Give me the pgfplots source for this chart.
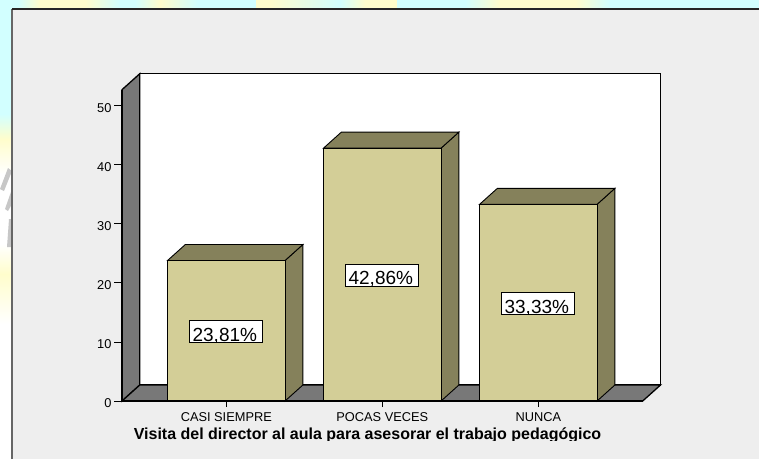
\documentclass[border=0pt]{standalone}
\usepackage{pgfplots}
\pgfplotsset{compat=1.18}
\usepackage{fontspec}
\setmainfont{Liberation Sans}
\definecolor{panel}{HTML}{EEEEEE}
\definecolor{wall}{HTML}{787878}
\definecolor{barfront}{HTML}{D3CE97}
\definecolor{barside}{HTML}{85815B}
\definecolor{bgcyan}{HTML}{D2FFFF}
\definecolor{bgyellow}{HTML}{FFFDCC}
\newcommand{\vallabel}[3]{%
  \node[draw=black, fill=white, line width=0.8pt, minimum width=73pt, minimum height=22pt, inner sep=0pt,
    path picture={\node[anchor=base, inner sep=0pt, font=\fontsize{19}{19}\selectfont] at ([xshift=-1.5pt,yshift=-9.6pt]path picture bounding box.center) {#3};}]
    at (axis cs:#1,#2) {};}
\begin{document}
\begin{tikzpicture}[x=1pt,y=1pt]
\useasboundingbox (0,0) rectangle (759,459);
\fill[white] (0,0) rectangle (759,459);
% background outside the panel
\fill[bgcyan] (0,450) rectangle (759,459);
\shade[left color=bgcyan, right color=bgyellow] (18,450) rectangle (40,459);
\fill[bgyellow] (40,450) rectangle (85,459);
\shade[left color=bgyellow, right color=bgcyan] (85,450) rectangle (120,459);
\shade[left color=bgcyan, right color=bgyellow] (135,450) rectangle (160,459);
\shade[left color=bgyellow, right color=bgcyan] (160,450) rectangle (198,459);
\fill[bgyellow] (256,450) rectangle (397,459);
\shade[left color=bgyellow, right color=bgcyan] (270,450) rectangle (340,459);
\shade[left color=bgcyan, right color=bgyellow] (340,450) rectangle (365,459);
\shade[left color=bgcyan, right color=bgyellow] (465,450) rectangle (500,459);
\fill[bgyellow] (500,450) rectangle (575,459);
\shade[left color=bgyellow, right color=bgcyan] (575,450) rectangle (610,459);
\fill[bgcyan] (0,345) rectangle (12,459);
\shade[top color=bgcyan, bottom color=bgyellow] (0,320) rectangle (12,345);
\shade[top color=bgyellow, bottom color=white] (0,285) rectangle (12,320);
\shade[top color=white, bottom color=bgyellow] (0,185) rectangle (12,215);
\shade[top color=bgyellow, bottom color=white] (0,135) rectangle (12,185);
\fill[black!22] (0,270) -- (8,291) -- (12,288) -- (4,268) -- cycle;
\fill[black!22] (5,250) -- (12,270) -- (12,255) -- (8,248) -- cycle;
\fill[black!22] (7,212) -- (12,212) -- (12,240) -- (9,240) -- cycle;
% panel
\fill[panel] (12,0) rectangle (759,450);
\draw[black!60, line width=1.3pt] (12,0) -- (12,450);
\draw[black!85, line width=1.3pt] (12,450) -- (759,450);
\begin{axis}[
  at={(122pt,58pt)}, anchor=south west,
  scale only axis, width=520.7pt, height=311.3pt,
  xmin=-0.6686, xmax=2.669, ymin=0, ymax=52.76,
  clip=false, axis on top,
  axis x line=bottom, axis y line=left,
  axis line style={-, black, line width=1.3pt},
  tick align=outside,
  xtick={0,1,2}, xticklabels={CASI SIEMPRE,POCAS VECES,NUNCA},
  ytick={0,10,20,30,40,50},
  major tick length=8pt,
  x tick style={black, line width=1pt, /pgfplots/major tick length=6pt},
  y tick style={black, line width=1pt},
  tick label style={font=\fontsize{12.8}{12.8}\selectfont, black},
  /pgf/number format/assume math mode=true,
  yticklabel style={xshift=1pt, yshift=-2.5pt},
  xticklabel style={yshift=-0.5pt},
]
% back wall, left wall, floor
\addplot[fill=white, draw=black, line width=1.3pt] coordinates {(-0.5546,2.71) (2.783,2.71) (2.783,55.47) (-0.5546,55.47)} -- cycle;
\addplot[fill=wall, draw=black, line width=1.3pt] coordinates {(-0.6686,0) (-0.5546,2.71) (-0.5546,55.47) (-0.6686,52.76)} -- cycle;
\addplot[fill=wall, draw=black, line width=1.3pt] coordinates {(-0.6686,0) (2.669,0) (2.783,2.71) (-0.5546,2.71)} -- cycle;
% bar 1
\addplot[fill=barside, draw=black, line width=0.9pt] coordinates {(0.3766,23.81) (0.4906,26.52) (0.4906,2.71) (0.3766,0)} -- cycle;
\addplot[fill=barside, draw=black, line width=0.9pt] coordinates {(-0.3766,23.81) (-0.2626,26.52) (0.4906,26.52) (0.3766,23.81)} -- cycle;
% bar 2
\addplot[fill=barside, draw=black, line width=0.9pt] coordinates {(1.3766,42.86) (1.4906,45.57) (1.4906,2.71) (1.3766,0)} -- cycle;
\addplot[fill=barside, draw=black, line width=0.9pt] coordinates {(0.6234,42.86) (0.7374,45.57) (1.4906,45.57) (1.3766,42.86)} -- cycle;
% bar 3
\addplot[fill=barside, draw=black, line width=0.9pt] coordinates {(2.3766,33.33) (2.4906,36.04) (2.4906,2.71) (2.3766,0)} -- cycle;
\addplot[fill=barside, draw=black, line width=0.9pt] coordinates {(1.6234,33.33) (1.7374,36.04) (2.4906,36.04) (2.3766,33.33)} -- cycle;
% front faces
\addplot[ybar, bar width=117.5pt, fill=barfront, draw=black, line width=0.9pt] coordinates {(0,23.81) (1,42.86) (2,33.33)};
\vallabel{0}{11.75}{23,81\%}
\vallabel{1}{21.3}{42,86\%}
\vallabel{2}{16.5}{33,33\%}
\end{axis}
\path[path picture={\node[anchor=base, inner sep=0pt, font=\fontsize{16}{16}\selectfont\bfseries] at (367.5,20) {Visita del director al aula para asesorar el trabajo pedagógico};}] (100,18.3) rectangle (640,40);
\end{tikzpicture}
\end{document}
